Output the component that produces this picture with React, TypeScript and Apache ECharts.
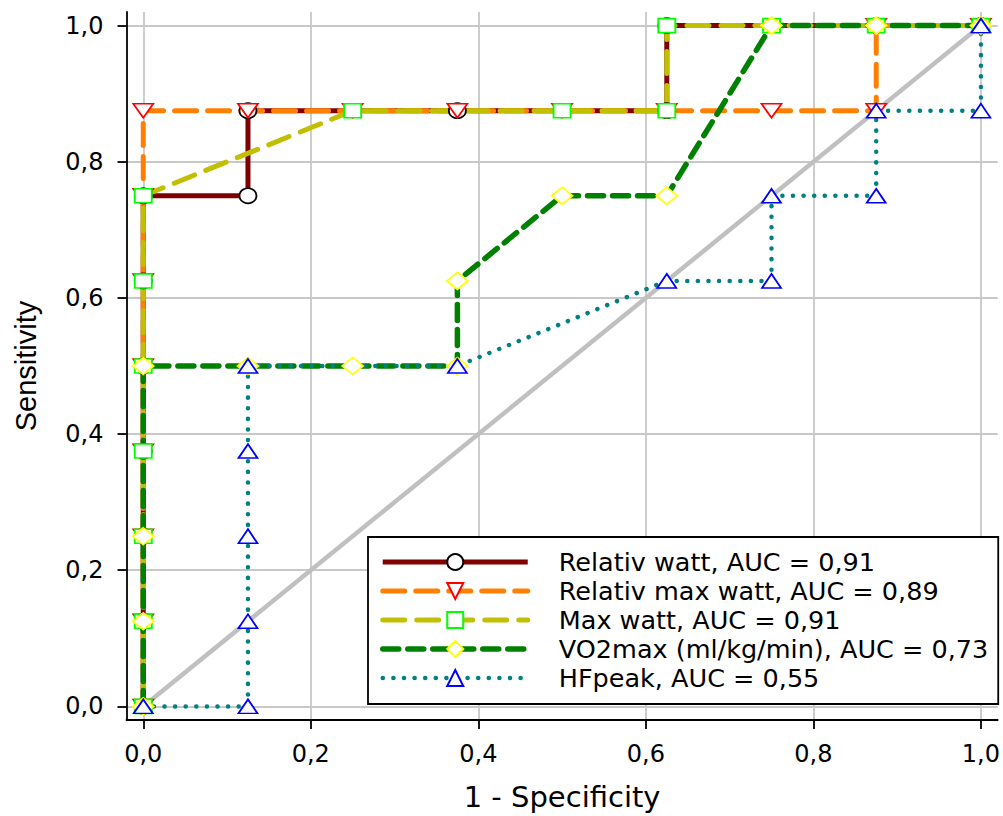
import React, { useEffect, useRef } from 'react';
import * as echarts from 'echarts';

// Tick values for both axes
const tickValues = [0, 0.2, 0.4, 0.6, 0.8, 1.0];

// Legend / series names
const seriesNames = [
  'Relativ watt, AUC = 0,91',
  'Relativ max watt, AUC = 0,89',
  'Max watt, AUC = 0,91',
  'VO2max (ml/kg/min), AUC = 0,73',
  'HFpeak, AUC = 0,55',
];

// ROC points: x = 1 - specificity, y = sensitivity
const relWattX = [0, 0, 0, 0, 0, 0, 0, 0.125, 0.125, 0.375, 0.625, 0.625, 0.875, 1];
const relWattY = [0, 0.125, 0.25, 0.375, 0.5, 0.625, 0.75, 0.75, 0.875, 0.875, 0.875, 1, 1, 1];

const relMaxX = [0, 0, 0, 0, 0, 0, 0, 0, 0.125, 0.25, 0.375, 0.5, 0.625, 0.75, 0.875, 0.875, 1];
const relMaxY = [0, 0.125, 0.25, 0.375, 0.5, 0.625, 0.75, 0.875, 0.875, 0.875, 0.875, 0.875, 0.875, 0.875, 0.875, 1, 1];

const maxWattX = [0, 0, 0, 0, 0, 0, 0, 0.25, 0.5, 0.625, 0.625, 0.75, 0.875, 1];
const maxWattY = [0, 0.125, 0.25, 0.375, 0.5, 0.625, 0.75, 0.875, 0.875, 0.875, 1, 1, 1, 1];

const vo2X = [0, 0, 0, 0, 0.125, 0.25, 0.375, 0.375, 0.5, 0.625, 0.75, 0.875, 1];
const vo2Y = [0, 0.125, 0.25, 0.5, 0.5, 0.5, 0.5, 0.625, 0.75, 0.75, 1, 1, 1];

const hfX = [0, 0.125, 0.125, 0.125, 0.125, 0.125, 0.375, 0.625, 0.75, 0.75, 0.875, 0.875, 1, 1];
const hfY = [0, 0, 0.125, 0.25, 0.375, 0.5, 0.5, 0.625, 0.625, 0.75, 0.75, 0.875, 0.875, 1];

const diagX = [0, 1];
const diagY = [0, 1];

const pairs = (xs: number[], ys: number[]) => xs.map((x, i) => [x, ys[i]]);
const fmt = (v: number) => v.toFixed(1).replace('.', ',');

export default function App() {
  const ref = useRef<HTMLDivElement>(null);

  useEffect(() => {
    if (!ref.current) return;
    const chart = echarts.init(ref.current, null, { renderer: 'svg' });

    const mk = (
      name: string,
      xs: number[],
      ys: number[],
      lineColor: string,
      width: number,
      dash: any,
      symbol: string,
      symbolSize: any,
      symbolRotate: number,
      markerColor: string,
    ) => ({
      name,
      type: 'line',
      data: pairs(xs, ys),
      clip: false,
      symbol,
      symbolSize,
      symbolRotate,
      showSymbol: true,
      showAllSymbol: true,
      lineStyle: { color: lineColor, width, type: dash, cap: dash === 'solid' ? 'butt' : 'round' },
      itemStyle: { color: '#ffffff', borderColor: markerColor, borderWidth: 1.7 },
      emphasis: { disabled: true },
    });

    const option: any = {
      animation: false,
      backgroundColor: '#ffffff',
      grid: { left: 126.5, right: 4.5, top: 12, bottom: 94.3, containLabel: false },
      xAxis: {
        type: 'value',
        min: -0.02,
        max: 1.02,
        name: '1 - Specificity',
        nameLocation: 'middle',
        nameGap: 62,
        nameTextStyle: { fontFamily: 'DejaVu Sans', fontSize: 29, color: '#000' },
        axisLine: { show: true, onZero: false, lineStyle: { color: '#000', width: 1.8 } },
        axisTick: { show: true, inside: false, length: 9, customValues: tickValues, lineStyle: { color: '#000', width: 1.8 } },
        axisLabel: { customValues: tickValues, formatter: fmt, fontFamily: 'DejaVu Sans', fontSize: 24, color: '#000', margin: 22 },
        splitLine: { show: true, lineStyle: { color: '#c8c8c8', width: 1.8 } },
      },
      yAxis: {
        type: 'value',
        min: -0.02,
        max: 1.02,
        name: 'Sensitivity',
        nameLocation: 'middle',
        nameGap: 86,
        nameTextStyle: { fontFamily: 'Liberation Sans', fontSize: 29, color: '#000' },
        axisLine: { show: true, onZero: false, lineStyle: { color: '#000', width: 1.8 } },
        axisTick: { show: true, inside: false, length: 9, customValues: tickValues, lineStyle: { color: '#000', width: 1.8 } },
        axisLabel: { customValues: tickValues, formatter: fmt, fontFamily: 'DejaVu Sans', fontSize: 24, color: '#000', margin: 23 },
        splitLine: { show: true, lineStyle: { color: '#c8c8c8', width: 1.8 } },
      },
      legend: {
        data: seriesNames,
        orient: 'vertical',
        left: 368,
        top: 537,
        padding: [12, 10, 13, 12],
        itemWidth: 145,
        itemHeight: 20,
        itemGap: 3,
        borderColor: '#000',
        borderWidth: 1.8,
        backgroundColor: '#ffffff',
        selectedMode: false,
        lineStyle: { width: 'inherit' },
        textStyle: { fontFamily: 'DejaVu Sans', fontSize: 25.5, color: '#000', padding: [0, 0, 0, 26] },
      },
      series: [
        {
          name: 'diag',
          type: 'line',
          data: pairs(diagX, diagY),
          symbol: 'none',
          lineStyle: { color: '#c0c0c0', width: 4.5 },
          emphasis: { disabled: true },
          silent: true,
        },
        mk(seriesNames[0], relWattX, relWattY, '#800000', 5, 'solid', 'circle', [17, 15], 0, '#000000'),
        mk(seriesNames[1], relMaxX, relMaxY, '#ff8000', 5, [22, 11], 'triangle', [20, 14], 180, '#ff0000'),
        mk(seriesNames[2], maxWattX, maxWattY, '#c0c000', 5, [22, 12], 'rect', [17, 14], 0, '#00ff00'),
        mk(seriesNames[3], vo2X, vo2Y, '#008000', 5.5, [16, 9], 'diamond', [21, 17], 0, '#ffff00'),
        mk(seriesNames[4], hfX, hfY, '#008080', 4.5, [0.1, 10.5], 'triangle', [19, 14], 0, '#0000ff'),
      ],
    };

    chart.setOption(option);
    return () => chart.dispose();
  }, []);

  return (
    <div
      ref={ref}
      style={{ position: 'absolute', left: 0, top: 0, width: 1003, height: 816, background: '#fff' }}
    />
  );
}
